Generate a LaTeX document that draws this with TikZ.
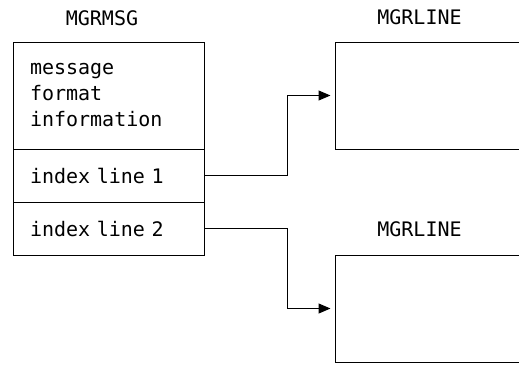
\documentclass[tikz,border=0pt]{standalone}
\usepackage{fontspec}
\setmonofont{DejaVu Sans Mono}
\usetikzlibrary{arrows.meta, positioning}

\begin{document}
\begin{tikzpicture}[x=1pt, y=-1pt, line width=1pt,
    font=\ttfamily\fontsize{20}{26}\selectfont,
    cell/.style={draw, anchor=north west, outer sep=0pt, inner xsep=17pt, text width=157pt, align=left},
    linebox/.style={anchor=north west, outer sep=0pt, minimum width=184pt, minimum height=107pt},
    link/.style={-{Triangle[length=12pt, width=10pt]}, shorten >=4.5pt}]
    \useasboundingbox (0,0) rectangle (519,365);
    % MGRMSG block
    \node[cell, minimum height=107pt] (header) at (13,42) {message\\format\\information};
    \node[cell, minimum height=53pt, below=0pt of header] (index1) {index line 1};
    \node[cell, minimum height=53pt, below=0pt of index1] (index2) {index line 2};
    \node (msgtitle) at (102,18) {MGRMSG};
    % MGRLINE blocks, open on the right
    \node[linebox] (line1) at (335,42) {};
    \node[linebox] (line2) at (335,255) {};
    \draw (line1.north east) -- (line1.north west) -- (line1.south west) -- (line1.south east);
    \draw (line2.north east) -- (line2.north west) -- (line2.south west) -- (line2.south east);
    \node (linetitle1) at (419.5,17) {MGRLINE};
    \node (linetitle2) at (419.5,229.5) {MGRLINE};
    \draw[link] (index1.east) -- ++(83.5,0) |- (line1.west);
    \draw[link] (index2.east) -- ++(83.5,0) |- (line2.west);
\end{tikzpicture}
\end{document}
